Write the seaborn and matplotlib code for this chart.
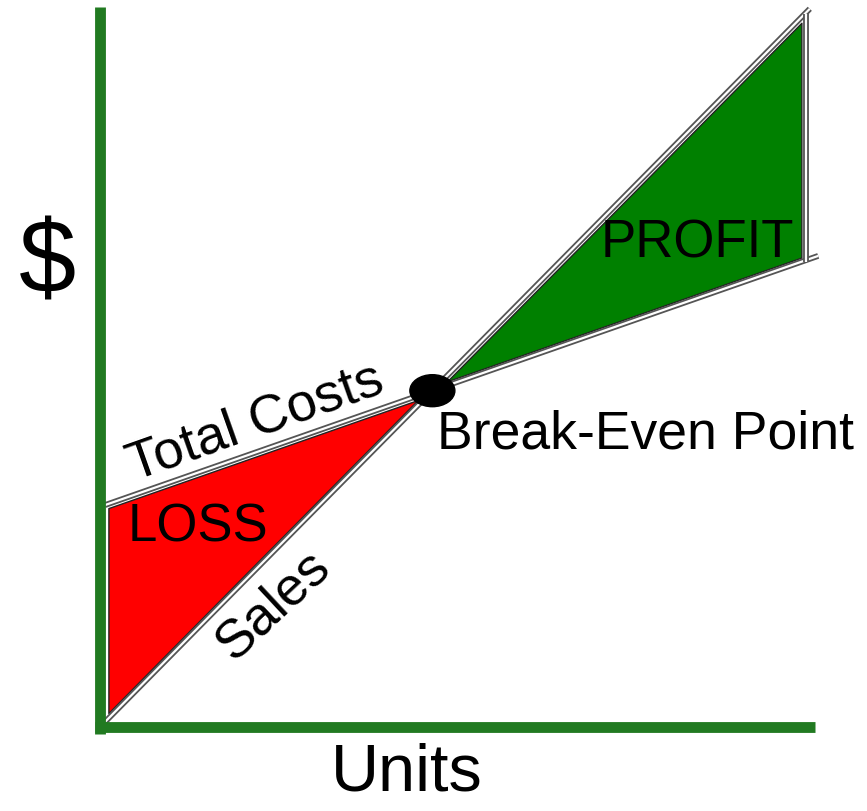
import numpy as np
import pandas as pd
import matplotlib
matplotlib.use("Agg")
import matplotlib.pyplot as plt
import matplotlib.patheffects as pe
from matplotlib.patches import Ellipse
import seaborn as sns

# ---- data (conceptual break-even chart) ----
units_sales = [0.0, 101.4]
sales = [0.0, 102.6]
units_costs = [0.7, 102.6]
total_costs = [31.7, 67.3]
capacity_units = 100.9
labels = {"y": "$", "x": "Units", "costs": "Total Costs", "sales": "Sales",
          "loss": "LOSS", "profit": "PROFIT", "be": "Break-Even Point"}

sns.set_style("white")
plt.rcParams['font.family'] = ['Liberation Sans', 'DejaVu Sans']
plt.rcParams['text.color'] = 'black'

fig = plt.figure(figsize=(8.67, 8.12), dpi=100)
ax = fig.add_axes([0, 0, 1, 1])

# line equations
s_slope = (sales[1] - sales[0]) / (units_sales[1] - units_sales[0])
s_int = sales[0] - s_slope * units_sales[0]
c_slope = (total_costs[1] - total_costs[0]) / (units_costs[1] - units_costs[0])
c_int = total_costs[0] - c_slope * units_costs[0]
be_u = (c_int - s_int) / (s_slope - c_slope)
be_d = s_int + s_slope * be_u

def sales_f(u):
    return s_int + s_slope * np.asarray(u)

def cost_f(u):
    return c_int + c_slope * np.asarray(u)

# fills
inset = 0.6
u_loss = np.linspace(1.2, be_u - 2.0, 50)
ax.fill_between(u_loss, sales_f(u_loss) + inset * 1.3, cost_f(u_loss) - inset,
                color="#ff0000", edgecolor="#222222", linewidth=1.0, zorder=2)
u_prof = np.linspace(be_u + 2.0, 100.2, 50)
ax.fill_between(u_prof, cost_f(u_prof) + inset, sales_f(u_prof) - inset * 1.3,
                color="#008000", edgecolor="#222222", linewidth=1.0, zorder=2)

# green axes
ax.plot([0, 0], [-1.0, 102.9], color="#217a21", lw=7.8, solid_capstyle="butt", zorder=5)
ax.plot([-0.7, 102.1], [0, 0], color="#217a21", lw=7.8, solid_capstyle="butt", zorder=5)

# lines (white core with gray outline)
effects = [pe.Stroke(linewidth=4.2, foreground="#555555", capstyle="butt"), pe.Normal()]
df_s = pd.DataFrame({"units": units_sales, "dollars": sales})
df_c = pd.DataFrame({"units": units_costs, "dollars": total_costs})
sns.lineplot(data=df_s, x="units", y="dollars", ax=ax, color="white", lw=1.6,
             path_effects=effects, solid_capstyle="butt", zorder=3)
sns.lineplot(data=df_c, x="units", y="dollars", ax=ax, color="white", lw=1.6,
             path_effects=effects, solid_capstyle="butt", zorder=3)
ax.plot([capacity_units, capacity_units], [sales_f(capacity_units) - 0.2, cost_f(capacity_units) - 0.3],
        color="white", lw=1.6, path_effects=effects, solid_capstyle="butt", zorder=3)
ax.set_xlim(-100 / 7, 767 / 7)
ax.set_ylim(-84 / 7, 728 / 7)
ax.axis("off")

# break-even point
ax.add_patch(Ellipse((be_u, be_d), 45 / 7, 32 / 7, color="black", zorder=6))

# texts
def px(xp, yp):
    return ((xp - 100) / 7, (728 - yp) / 7)

tk = dict(ha="center", va="center", zorder=7, color="black")
ax.text(*px(47, 266), labels["y"], fontsize=74, **tk)
ax.text(*px(407, 774), labels["x"], fontsize=48, **tk)
ax.text(*px(255, 423), labels["costs"], fontsize=39, rotation=19.5, rotation_mode="anchor", **tk)
ax.text(*px(273, 605), labels["sales"], fontsize=39, rotation=43, rotation_mode="anchor", **tk)
ax.text(*px(198, 527), labels["loss"], fontsize=38, **tk)
ax.text(*px(697, 244), labels["profit"], fontsize=38, **tk)
ax.text(*px(646, 435), labels["be"], fontsize=38.5, **tk)

fig.savefig("out.png", dpi=100)
